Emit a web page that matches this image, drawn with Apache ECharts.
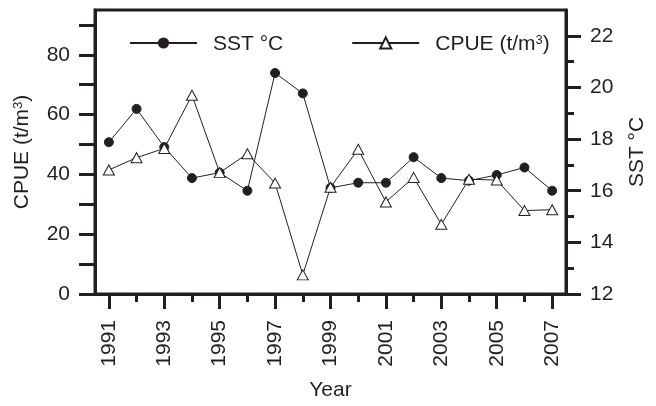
<!DOCTYPE html>
<html><head><meta charset="utf-8">
<script src="https://cdn.jsdelivr.net/npm/echarts@6/dist/echarts.min.js"></script>
<style>html,body{margin:0;padding:0;background:#fff}#c{width:656px;height:406px}</style>
</head><body><div id="c"></div>
<script>
const years = [1991,1992,1993,1994,1995,1996,1997,1998,1999,2000,2001,2002,2003,2004,2005,2006,2007];
const sst = [17.88,19.17,17.69,16.49,16.70,16.0,20.56,19.77,16.11,16.31,16.31,17.30,16.49,16.39,16.61,16.90,16.0];
const cpue = [41.5,45.6,48.7,66.5,40.6,46.9,37.1,6.4,35.7,48.4,30.8,39.0,23.3,38.4,38.1,27.9,28.2];
const xLabelYears = [1991,1993,1995,1997,1999,2001,2003,2005,2007];
const xMinorYears = [1992,1994,1996,1998,2000,2002,2004,2006];
const leftTicks = [0,10,20,30,40,50,60,70,80,90];
const leftLabels = [0,20,40,60,80];
const rightMajor = [12,14,16,18,20,22];
const rightMinor = [13,15,17,19,21];

const C = '#231f20';
const F = 'Liberation Sans, Arial, sans-serif';
const FS = 21;
const chart = echarts.init(document.getElementById('c'));
chart.setOption({
  animation: false,
  textStyle: {fontFamily: F},
  grid: {left: 95, top: 10, right: 82, bottom: 109, show: true, borderColor: C, borderWidth: 3, backgroundColor: 'transparent'},
  legend: {
    left: 124, top: 29, itemWidth: 67, itemHeight: 14, itemGap: 68,
    data: ['SST °C', 'CPUE (t/m3)'],
    formatter: function(n){ return n === 'CPUE (t/m3)' ? 'CPUE (t/m{sup|3})' : n; },
    textStyle: {fontSize: FS, color: C, fontFamily: F, padding: [3,0,0,11],
      rich: {sup: {fontSize: 13, verticalAlign: 'top', color: C, fontFamily: F, padding: [0,0,8,0]}}}
  },
  xAxis: [
    {type: 'value', min: 1990.5, max: 2007.5, position: 'bottom',
     name: 'Year', nameLocation: 'middle', nameGap: 86, nameTextStyle: {fontSize: FS, color: C, fontFamily: F},
     axisLine: {lineStyle: {color: C, width: 3}},
     axisTick: {show: true, length: 15, lineStyle: {color: C, width: 3}, customValues: xLabelYears},
     axisLabel: {rotate: 90, fontSize: FS, color: C, margin: 26, fontFamily: F, customValues: xLabelYears, formatter: v => String(v)},
     splitLine: {show: false}},
    {type: 'value', min: 1990.5, max: 2007.5, position: 'bottom',
     axisLine: {show: false},
     axisTick: {show: true, length: 8, lineStyle: {color: C, width: 3}, customValues: xMinorYears},
     axisLabel: {show: false}, splitLine: {show: false}}
  ],
  yAxis: [
    {type: 'value', min: 0, max: 95, position: 'left',
     name: 'CPUE (t/m{sup|3})', nameLocation: 'middle', nameGap: 62, nameRotate: 90,
     nameTextStyle: {fontSize: FS, color: C, fontFamily: F, rich: {sup: {fontSize: 13, verticalAlign: 'top', color: C, padding: [0,0,8,0]}}},
     axisLine: {show: true, lineStyle: {color: C, width: 3}},
     axisTick: {show: true, length: 16, lineStyle: {color: C, width: 3}, customValues: leftTicks},
     axisLabel: {fontSize: FS, color: C, margin: 25, fontFamily: F, customValues: leftLabels},
     splitLine: {show: false}},
    {type: 'value', min: 12, max: 23, position: 'right',
     name: 'SST °C', nameLocation: 'middle', nameGap: 61, nameRotate: 90,
     nameTextStyle: {fontSize: FS, color: C, fontFamily: F},
     axisLine: {show: true, lineStyle: {color: C, width: 3}},
     axisTick: {show: true, length: 15, lineStyle: {color: C, width: 3}, customValues: rightMajor},
     axisLabel: {fontSize: FS, color: C, margin: 24, fontFamily: F, customValues: rightMajor},
     splitLine: {show: false}},
    {type: 'value', min: 12, max: 23, position: 'right',
     axisLine: {show: false},
     axisTick: {show: true, length: 8, lineStyle: {color: C, width: 3}, customValues: rightMinor},
     axisLabel: {show: false}, splitLine: {show: false}}
  ],
  series: [
    {name: 'SST °C', type: 'line', xAxisIndex: 0, yAxisIndex: 1,
     data: years.map((y,i) => [y, sst[i]]),
     symbol: 'circle', symbolSize: 9,
     lineStyle: {color: C, width: 1}, itemStyle: {color: C, borderColor: C}},
    {name: 'CPUE (t/m3)', type: 'line', xAxisIndex: 0, yAxisIndex: 0,
     data: years.map((y,i) => [y, cpue[i]]),
     symbol: 'triangle', symbolSize: [11, 10],
     lineStyle: {color: C, width: 1}, itemStyle: {color: '#fff', borderColor: C, borderWidth: 1}}
  ]
});
</script></body></html>
